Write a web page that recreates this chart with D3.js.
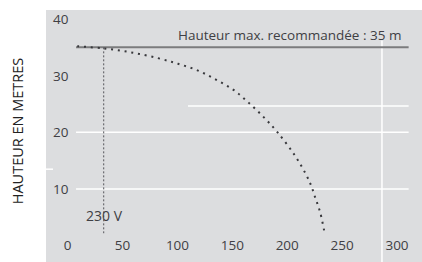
<!DOCTYPE html>
<html>
<head>
<meta charset="utf-8">
<script src="https://cdn.jsdelivr.net/npm/d3@7"></script>
<style>
  html, body { margin: 0; padding: 0; background: #fff; }
  svg { display: block; font-family: "Open Sans", "Noto Sans", sans-serif; }
</style>
</head>
<body>
<svg id="chart" width="422" height="262"></svg>
<script>
// DATA
const curveX = [8.7, 33, 58, 82, 100.5, 118.7, 135, 151, 165, 179, 191.6, 207, 217, 222, 226, 230, 234];
const curveY = [35.2, 34.8, 34.1, 33.1, 32.1, 30.9, 29.3, 27.5, 25.2, 22.6, 19.9, 15.9, 12.6, 10.5, 8.2, 5.9, 2.3];

const xTicks = [0, 50, 100, 150, 200, 250, 300];
const yTicks = [10, 20, 30, 40];

const maxHeight = 35;
const maxLabel = "Hauteur max. recommandée : 35 m";
const voltageX = 32.8;
const voltageLabel = "230 V";
const yTitle = "HAUTEUR EN METRES";

// white grid lines: value, from, to
const hGrid = [
  { y: 20, x0: 7.6, x1: 310.6 },
  { y: 10, x0: 7.6, x1: 310.6 },
  { y: 24.65, x0: 109.6, x1: 310.6 },
  { y: 13.5, x0: -19.8, x1: -13.4 }
];
const vGrid = [{ x: 286.3, y0: 36.2, y1: -3 }];

// SCALES
const x = d3.scaleLinear().domain([0, 300]).range([67.7, 397]);
const y = d3.scaleLinear().domain([0, 40]).range([245.7, 19]);

const svg = d3.select("#chart");

svg.append("rect")
  .attr("x", 46).attr("y", 10)
  .attr("width", 376).attr("height", 252)
  .attr("fill", "#dcdddf");

// GRID
svg.selectAll(".hgrid")
  .data(hGrid)
  .join("line")
  .attr("x1", d => x(d.x0)).attr("x2", d => x(d.x1))
  .attr("y1", d => y(d.y)).attr("y2", d => y(d.y))
  .attr("stroke", "#fff").attr("stroke-width", 1.5);

svg.selectAll(".vgrid")
  .data(vGrid)
  .join("line")
  .attr("x1", d => x(d.x)).attr("x2", d => x(d.x))
  .attr("y1", d => y(d.y0)).attr("y2", d => y(d.y1))
  .attr("stroke", "#fff").attr("stroke-width", 1.5);

// MAX HEIGHT LINE
svg.append("line")
  .attr("x1", x(7.6)).attr("x2", x(310.6))
  .attr("y1", y(maxHeight)).attr("y2", y(maxHeight))
  .attr("stroke", "#7b7b7d").attr("stroke-width", 2);

svg.append("text")
  .attr("x", x(304)).attr("y", y(maxHeight) - 7)
  .attr("text-anchor", "end")
  .attr("font-size", 13.5)
  .attr("fill", "#3f3f44")
  .text(maxLabel);

// VOLTAGE MARKER
svg.append("line")
  .attr("x1", x(voltageX)).attr("x2", x(voltageX))
  .attr("y1", y(maxHeight)).attr("y2", y(2.2))
  .attr("stroke", "#55555a").attr("stroke-width", 1)
  .attr("stroke-dasharray", "2,2");

svg.append("text")
  .attr("x", 86).attr("y", y(4.3))
  .attr("font-size", 14)
  .attr("fill", "#3f3f44")
  .text(voltageLabel);

// CURVE
const points = curveX.map((v, i) => [v, curveY[i]]);
const line = d3.line()
  .x(d => x(d[0]))
  .y(d => y(d[1]))
  .curve(d3.curveCatmullRom);

svg.append("path")
  .attr("d", line(points))
  .attr("fill", "none")
  .attr("stroke", "#38383c")
  .attr("stroke-width", 2)
  .attr("stroke-dasharray", "2,4.8");

// AXES LABELS
svg.selectAll(".xt")
  .data(xTicks)
  .join("text")
  .attr("x", d => x(d))
  .attr("y", y(0) + 4.5)
  .attr("text-anchor", "middle")
  .attr("font-size", 13.5)
  .attr("fill", "#3f3f44")
  .text(d => d);

svg.selectAll(".yt")
  .data(yTicks)
  .join("text")
  .attr("x", 68.5)
  .attr("y", d => y(d) + 5)
  .attr("text-anchor", "end")
  .attr("font-size", 13.5)
  .attr("fill", "#3f3f44")
  .text(d => d);

svg.append("text")
  .attr("transform", "translate(23,131) rotate(-90)")
  .attr("text-anchor", "middle")
  .attr("font-size", 14.5)
  .attr("fill", "#222")
  .text(yTitle);
</script>
</body>
</html>
